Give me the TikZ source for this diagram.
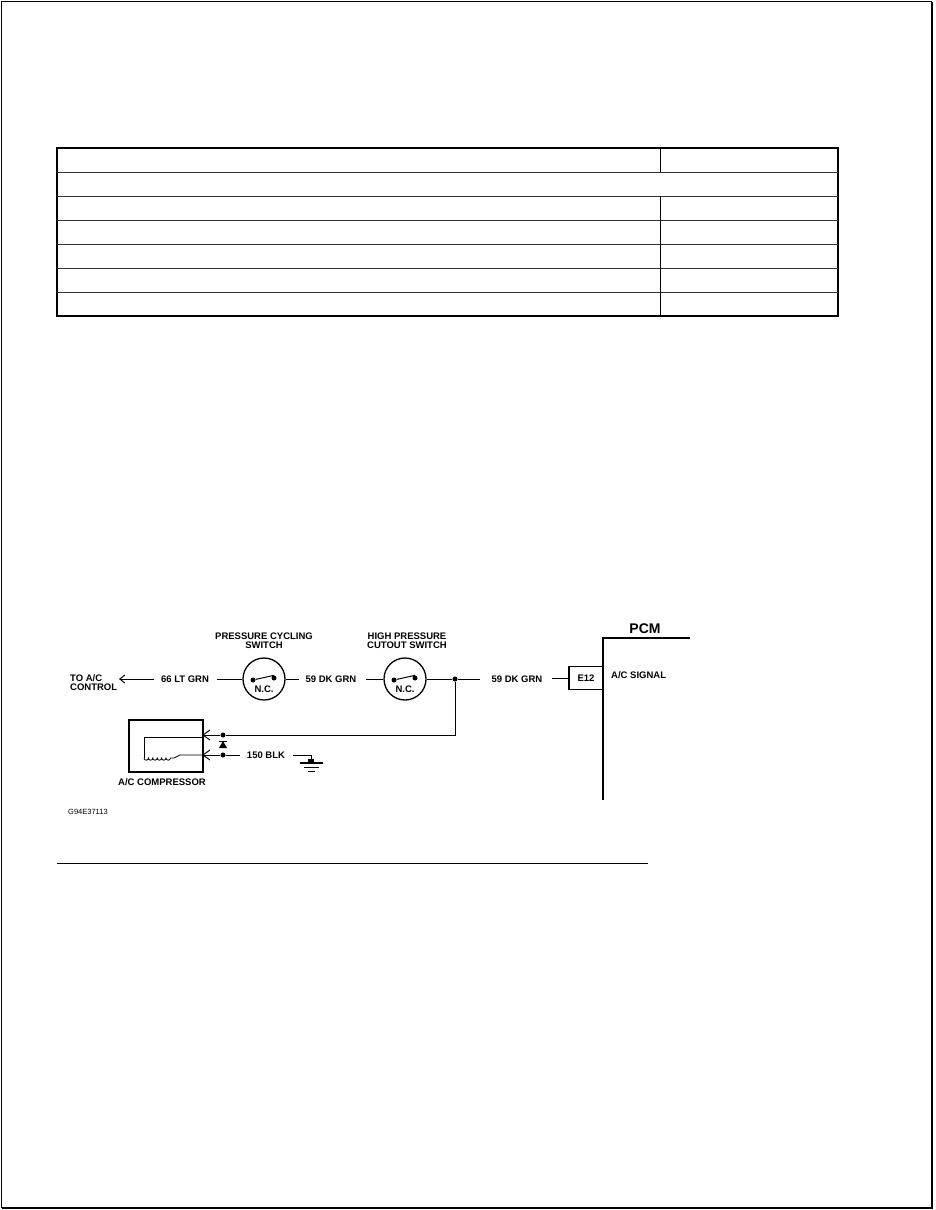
\documentclass[tikz,border=0pt]{standalone}
\usepackage{fontspec}
\setmainfont{Liberation Sans}
\usetikzlibrary{arrows.meta}
\begin{document}
\begin{tikzpicture}[x=1pt,y=-1pt,
  lbl/.style={font=\bfseries\fontsize{9.5}{10}\selectfont,inner sep=0pt,align=center},
  wire/.style={line width=1pt},
  dotc/.style={circle,fill,inner sep=0pt,minimum size=5pt},
  sw/.style={circle,draw,line width=1.3pt,minimum width=42pt,minimum height=40pt,inner sep=0pt}]
\useasboundingbox (0,0) rectangle (935,1210);
% page frame
\draw[line width=1pt] (1,1) rectangle (931,1207);
\draw[line width=2.5pt] (932,2) -- (932,1208) -- (2,1208);
% table
\draw[line width=2pt] (57,148) rectangle (838,316);
\foreach \y in {172,196,220,244,268,292} \draw[line width=1pt,black!80] (57,\y) -- (838,\y);
\draw[line width=1pt] (660,148) -- (660,172);
\draw[line width=1pt] (660,196) -- (660,316);
% labels
\node[lbl,align=left,anchor=west] (toac) at (70,683) {TO A/C\\[-1pt]CONTROL};
\node[lbl] (g66) at (185,679) {66 LT GRN};
\node[sw] (s1) at (264,679) {};
\node[sw] (s2) at (405,679) {};
\node[lbl] (t1) at (264,641) {PRESSURE CYCLING\\[-1pt]SWITCH};
\node[lbl] (t2) at (407,641) {HIGH PRESSURE\\[-1pt]CUTOUT SWITCH};
\node[lbl] (nc1) at (264,689) {N.C.};
\node[lbl] (nc2) at (405,689) {N.C.};
\node[lbl] (g59a) at (331,679) {59 DK GRN};
\node[lbl] (g59b) at (517,679) {59 DK GRN};
\node[draw,line width=1.3pt,minimum width=34pt,minimum height=23pt,inner sep=0pt,font=\bfseries\fontsize{9.5}{10}\selectfont] (e12) at (586,678) {E12};
\node[lbl,anchor=west] (sig) at (611,675) {A/C SIGNAL};
\node[font=\bfseries\fontsize{14}{15}\selectfont,inner sep=0pt] (pcm) at (645,629) {PCM};
\node[lbl] (comp) at (162,782) {A/C COMPRESSOR};
\node[lbl] (blk) at (266,755) {150 BLK};
\node[font=\fontsize{7.5}{8}\selectfont,inner sep=0pt,anchor=west] (code) at (68,812) {G94E37113};
% wires
\coordinate (a1) at (154,679);
\draw[wire,-{Straight Barb[length=5pt,width=8pt]}] (a1) -- (119,679);
\draw[wire] (217,679) -- (s1.west);
\draw[wire] (s1.east) -- (299,679);
\draw[wire] (366,679) -- (s2.west);
\node[dotc] (j) at (455,679) {};
\draw[wire] (s2.east) -- (j) -- (480,679);
\draw[wire] (552,678) -- (e12.west);
% switch contacts
\foreach \s/\x in {1/264,2/405}{
 \node[dotc] (l\s) at (\x-11,680) {};
 \node[dotc] (r\s) at (\x+10,678) {};
 \draw[line width=1pt] (l\s) -- (r\s.north);
}
% PCM
\draw[line width=2pt] (603,800) -- (603,638) -- (690,638);
% compressor
\draw[line width=1.5pt] (129,720) rectangle (203,772);
\node[dotc] (d1) at (223,735) {};
\node[dotc] (d2) at (223,755) {};
\draw[wire] (j) -- (455,735) -- (d1) -- (203,735);
\draw[wire] (d2) -- (203,755);
\draw[wire] (d2) -- (240,755);
\foreach \y in {735,755} \draw[line width=1pt] (210,\y-5) -- (203,\y) -- (210,\y+5);
\draw[line width=0.8pt] (203,737) -- (144,737) -- (144,758);
\draw[line width=0.8pt] (144,758) \foreach \i in {0,...,5}{ arc[start angle=180,end angle=0,radius=2.2] } -- (174,758) -- (180,755) -- (203,755);
\fill (219,748) -- (227,748) -- (223,741) -- cycle;
\draw[line width=1pt] (219,741) -- (227,741);
% ground
\coordinate (gs) at (293,755);
\coordinate (gb) at (311,763);
\draw[wire] (gs) -- (311,755) -- (gb);
\draw[line width=1.2pt] (300,763) -- (323,763);
\draw[line width=1pt] (304,767) -- (319,767);
\draw[line width=1pt] (308,771) -- (315,771);
\fill (308,759) rectangle (314,763);
% bottom rule
\draw[line width=1pt] (57,863) -- (648,863);
\end{tikzpicture}
\end{document}
